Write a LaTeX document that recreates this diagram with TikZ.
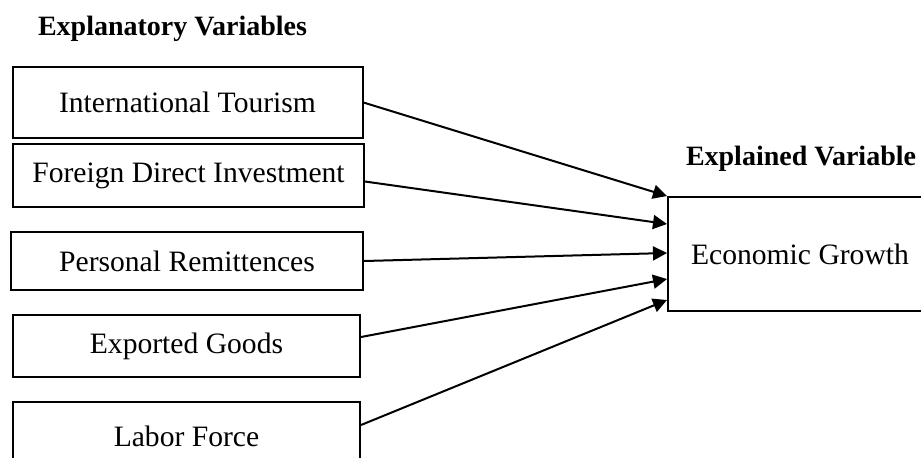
\documentclass[tikz,border=0pt]{standalone}
\usepackage{fontspec}
\setmainfont{Liberation Serif}
\usetikzlibrary{arrows.meta}
\tikzset{
  varbox/.style={draw, line width=1pt, inner sep=0pt, font=\fontsize{14.8}{18}\selectfont},
  vartitle/.style={anchor=base, font=\fontsize{14}{17}\selectfont\bfseries},
  link/.style={line width=1pt, -{Triangle[length=7pt, width=7pt]}}
}
\begin{document}
\begin{tikzpicture}[x=0.5pt, y=-0.5pt]
\clip (0,0) rectangle (921,457);
\node[vartitle] (tx) at (172.5,35){Explanatory Variables};
\node[vartitle] (ty) at (801,165){Explained Variable};
\node[varbox, minimum width=175pt, minimum height=35.5pt] (var1) at (187.5,102.5){International Tourism};
\node[varbox, minimum width=175.5pt, minimum height=31.5pt] (var2) at (188.5,175.5){Foreign Direct Investment};
\node[varbox, minimum width=176pt, minimum height=29pt] (var3) at (187,261){Personal Remittences};
\node[varbox, minimum width=173.5pt, minimum height=31pt] (var4) at (186.5,346){Exported Goods};
\node[varbox, minimum width=173.5pt, minimum height=34pt] (var5) at (186.5,436){Labor Force};
\node[varbox, minimum width=132pt, minimum height=57pt] (eg) at (800,254){Economic Growth};
\draw[link](var1.east) -- (eg.north west);
\draw[link]([yshift=-3pt]var2.east) -- ([yshift=15pt]eg.west);
\draw[link](var3.east) -- ([yshift=0.5pt]eg.west);
\draw[link]([yshift=4.5pt]var4.east) -- ([yshift=-12.5pt]eg.west);
\draw[link]([yshift=5.5pt]var5.east) -- ([yshift=-23pt]eg.west);

\end{tikzpicture}
\end{document}
